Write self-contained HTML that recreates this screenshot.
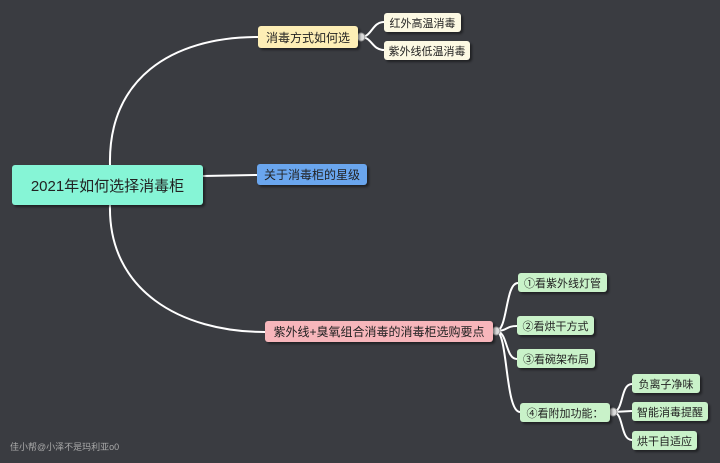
<!DOCTYPE html>
<html><head><meta charset="utf-8"><style>
body{margin:0;width:720px;height:463px;background:#3a3c41;overflow:hidden;position:relative;font-family:"Liberation Sans","Noto Sans CJK SC",sans-serif}
.n{position:absolute;box-sizing:border-box;border-radius:3px;color:#222;font-size:12px;display:flex;align-items:center;justify-content:center;box-shadow:2px 2px 2px rgba(0,0,0,.45);white-space:nowrap}
.g{background:#c9f2c9;font-size:11px}
.y{background:#fcf9e3;font-size:11px}
svg{position:absolute;left:0;top:0}
</style></head><body>
<svg width="720" height="463" fill="none" stroke="#fff" stroke-width="2">
<path d="M110,165 C108,80 170,37 258,37"/>
<path d="M110,205 C108,290 180,332 265,332"/>
<path d="M203,176 L257,175"/>
<path d="M361,37 C372,37 372,22 384,22"/>
<path d="M361,37 C372,37 372,50 384,50"/>
<path d="M496,331 C508,331 505,283 518,283"/>
<path d="M496,331 C508,331 505,326 517,326"/>
<path d="M496,331 C508,331 505,359 517,359"/>
<path d="M496,331 C508,331 505,412 520,412"/>
<path d="M613,412 C624,412 620,384 632,384"/>
<path d="M613,412 L632,411"/>
<path d="M613,412 C624,412 620,440 632,440"/>
<circle cx="361" cy="37" r="4" fill="#ddd" stroke="#999" stroke-width="1"/>
<circle cx="496" cy="331" r="4" fill="#ddd" stroke="#999" stroke-width="1"/>
<circle cx="613" cy="412" r="4" fill="#ddd" stroke="#999" stroke-width="1"/>
</svg>
<div class="n" style="left:12px;top:165px;width:191px;height:40px;background:#86f5d6;font-size:15px">2021年如何选择消毒柜</div>
<div class="n" style="left:258px;top:26px;width:100px;height:22px;background:#fdeeb5">消毒方式如何选</div>
<div class="n y" style="left:384px;top:13px;width:77px;height:19px">红外高温消毒</div>
<div class="n y" style="left:384px;top:41px;width:86px;height:19px">紫外线低温消毒</div>
<div class="n" style="left:257px;top:164px;width:110px;height:21px;background:#6aa6ee">关于消毒柜的星级</div>
<div class="n" style="left:265px;top:321px;width:228px;height:21px;background:#f7b6bb">紫外线+臭氧组合消毒的消毒柜选购要点</div>
<div class="n g" style="left:518px;top:273px;width:89px;height:19px">①看紫外线灯管</div>
<div class="n g" style="left:517px;top:316px;width:77px;height:19px">②看烘干方式</div>
<div class="n g" style="left:517px;top:349px;width:78px;height:19px">③看碗架布局</div>
<div class="n g" style="left:520px;top:403px;width:90px;height:19px">④看附加功能：</div>
<div class="n g" style="left:632px;top:374px;width:68px;height:19px">负离子净味</div>
<div class="n g" style="left:632px;top:402px;width:76px;height:19px">智能消毒提醒</div>
<div class="n g" style="left:632px;top:431px;width:65px;height:19px">烘干自适应</div>
<div style="position:absolute;left:10px;top:440px;font-size:9px;color:#aaa">佳小帮@小泽不是玛利亚o0</div>
</body></html>
